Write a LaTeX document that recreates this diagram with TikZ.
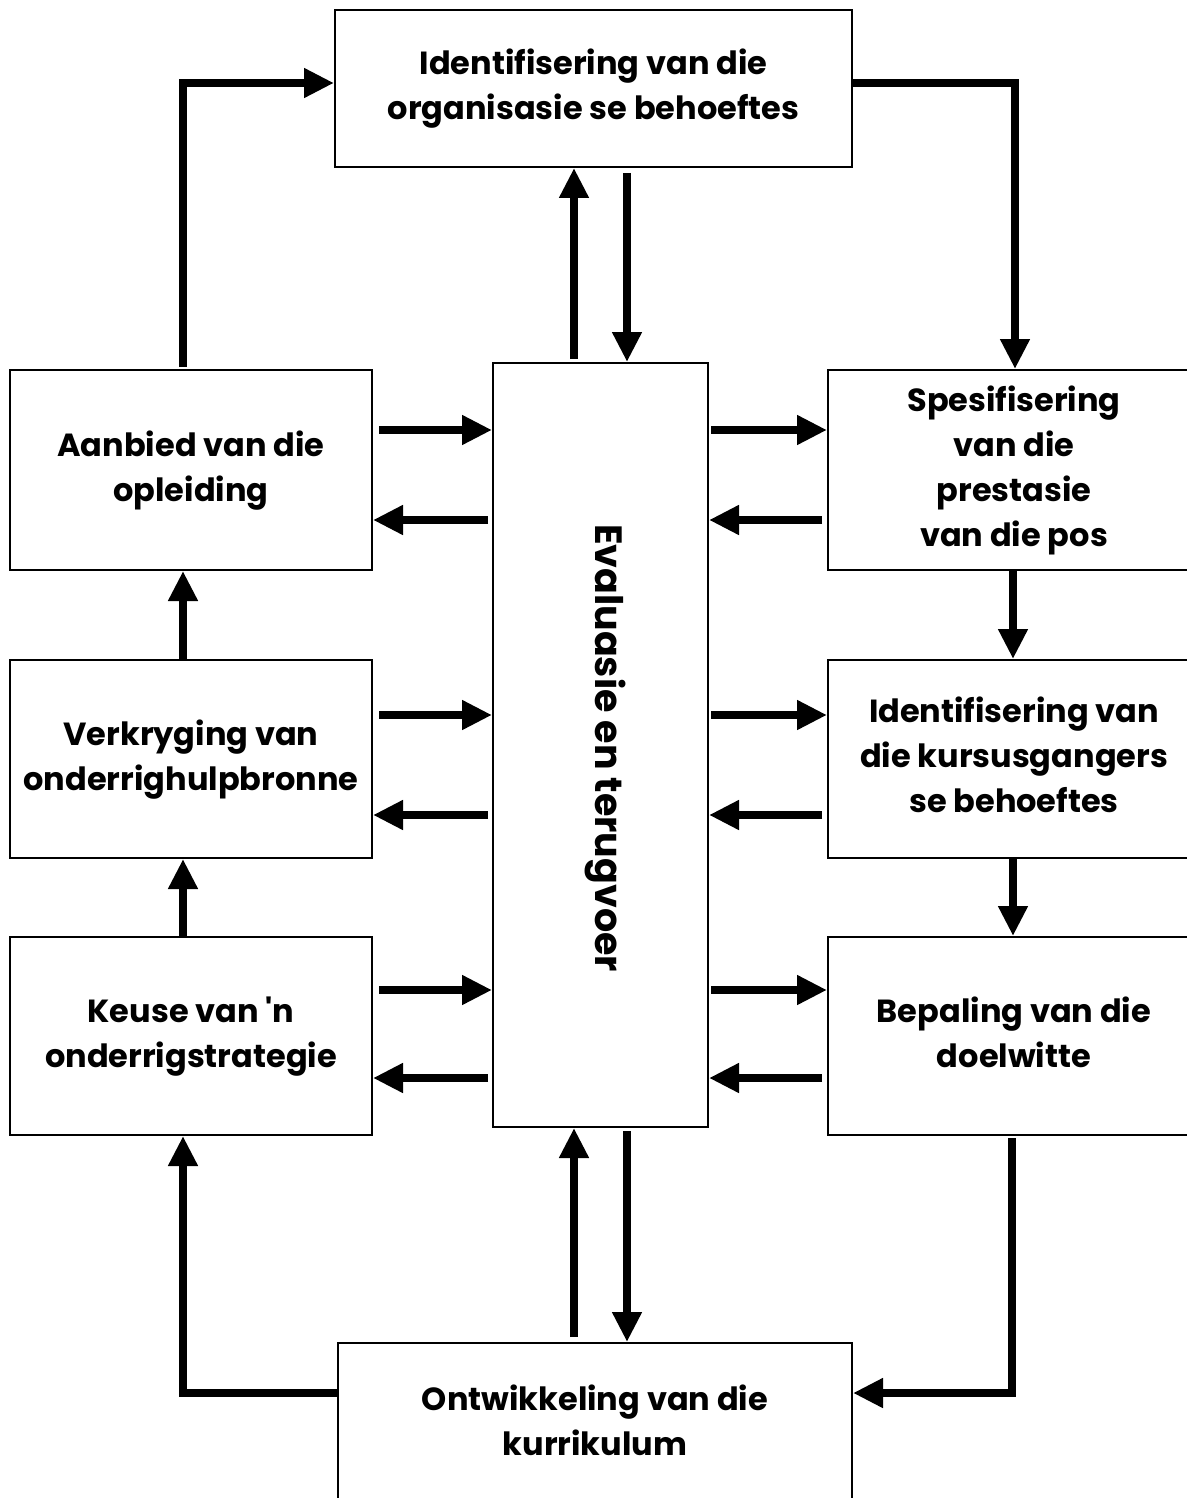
\documentclass[tikz,border=0pt]{standalone}
\usepackage{fontspec}
\setmainfont{Poppins}[Ligatures=TeXOff]
\usetikzlibrary{arrows.meta,calc}
\begin{document}
\begin{tikzpicture}[x=0.5pt,y=-0.5pt,
  box/.style={draw=black,line width=1pt,rectangle,align=center,inner sep=0pt,
    font=\fontsize{16}{22.5}\selectfont\bfseries},
  arr/.style={line width=4pt,-{Triangle[length=15pt,width=14pt]}}]
\useasboundingbox (0,0) rectangle (1187,1498);
\clip (0,0) rectangle (1187,1498);
\fill[white] (0,0) rectangle (1187,1498);
% boxes
\node[box,minimum width=258.5pt,minimum height=78.5pt,text depth=4pt] (T) at (593.5,88.5)
  {Identifisering van die\\organisasie se behoeftes};
\node[box,minimum width=107.5pt,minimum height=382pt] (E) at (600.5,745) {};
\node[rotate=-90,font=\fontsize{19}{24}\selectfont\bfseries] (Et) at (605,748) {Evaluasie en terugvoer};
\node[box,minimum width=181pt,minimum height=100pt,text depth=4pt] (L1) at (191,470) {Aanbied van die\\opleiding};
\node[box,minimum width=181pt,minimum height=99pt,text depth=4pt] (L2) at (191,759) {Verkryging van\\onderrighulpbronne};
\node[box,minimum width=181pt,minimum height=99pt,text depth=4pt] (L3) at (191,1036) {Keuse van 'n\\onderrigstrategie};
\node[box,minimum width=186pt,minimum height=100pt] (R1) at (1014,470) {Spesifisering\\van die\\prestasie\\van die pos};
\node[box,minimum width=186pt,minimum height=99pt,text depth=4pt] (R2) at (1014,759) {Identifisering van\\die kursusgangers\\se behoeftes};
\node[box,minimum width=186pt,minimum height=99pt,text depth=4pt] (R3) at (1014,1036) {Bepaling van die\\doelwitte};
\node[box,minimum width=257pt,minimum height=81pt,text depth=4pt] (B) at (595,1424) {Ontwikkeling van die\\kurrikulum};
% outer loop
\draw[arr] ([xshift=-4pt,yshift=1pt]L1.north) |- ([yshift=2.75pt]T.west);
\draw[arr] ([yshift=2.75pt]T.east) -| ([xshift=0.5pt]R1.north);
\draw[arr] ([xshift=-1pt,yshift=-1pt]R3.south) |- ([yshift=15.5pt]B.east);
\draw[arr] ([yshift=15.5pt]B.west) -| ([xshift=-4pt]L3.south);
% verticals between side boxes
\draw[arr] ([xshift=-0.5pt]R1.south) -- ([xshift=-0.5pt]R2.north);
\draw[arr] ([xshift=-0.5pt]R2.south) -- ([xshift=-0.5pt]R3.north);
\draw[arr] ([xshift=-4pt]L3.north) -- ([xshift=-4pt]L2.south);
\draw[arr] ([xshift=-4pt]L2.north) -- ([xshift=-4pt]L1.south);
% top and bottom with evaluation
\draw[arr] ([xshift=-13.25pt,yshift=1.5pt]E.north) -- ([xshift=-13.25pt]E.north |- T.south);
\draw[arr] ([xshift=13.25pt,yshift=-2.5pt]E.north |- T.south) -- ([xshift=13.25pt]E.north);
\draw[arr] ([xshift=13.25pt,yshift=-1.5pt]E.south) -- ([xshift=13.25pt]E.south |- B.north);
\draw[arr] ([xshift=-13.25pt,yshift=2.5pt]E.south |- B.north) -- ([xshift=-13.25pt]E.south);
% horizontals
\foreach \n/\a/\b in {L1/20/-25, L2/22/-28, L3/23/-21}{
  \draw[arr] ([xshift=3pt,yshift=\a pt]\n.east) -- ([yshift=\a pt]\n.east -| E.west);
  \draw[arr] ([xshift=-2pt,yshift=\b pt]\n.east -| E.west) -- ([yshift=\b pt]\n.east);
}
\foreach \n/\a/\b in {R1/20/-25, R2/22/-28, R3/23/-21}{
  \draw[arr] ([xshift=1pt,yshift=\a pt]\n.west -| E.east) -- ([yshift=\a pt]\n.west);
  \draw[arr] ([xshift=-2.5pt,yshift=\b pt]\n.west) -- ([yshift=\b pt]\n.west -| E.east);
}
\end{tikzpicture}
\end{document}
